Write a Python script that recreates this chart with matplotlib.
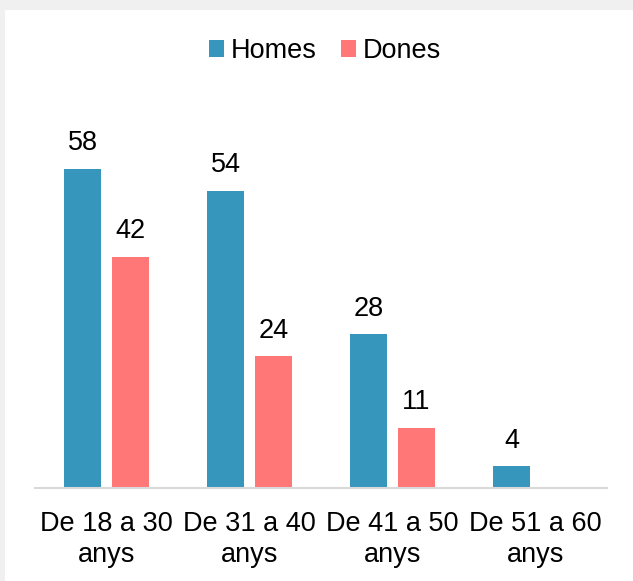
import numpy as np
import matplotlib.pyplot as plt
from matplotlib.patches import Rectangle

plt.rcParams['font.family'] = ['Liberation Sans', 'DejaVu Sans']

categories = ["De 18 a 30\nanys", "De 31 a 40\nanys", "De 41 a 50\nanys", "De 51 a 60\nanys"]
homes = [58, 54, 28, 4]
dones = [42, 24, 11, None]

blau = "#3796bc"
rosa = "#ff7777"
mida = 19.5

W, H = 633, 581
fig = plt.figure(figsize=(W / 100, H / 100), dpi=100, facecolor="#f0f0f0")
fig.patches.append(Rectangle((5 / W, 0), 1, 1 - 10 / H, transform=fig.transFigure,
                             facecolor="white", edgecolor="none", zorder=-5))

ax = fig.add_axes([35 / W, 93 / H, 572 / W, 352 / H])
ax.set_facecolor("none")

x = np.arange(len(categories))
ample = 0.26
desp = 0.168

hv = [v if v is not None else 0 for v in homes]
dv = [v if v is not None else 0 for v in dones]
b1 = ax.bar(x - desp, hv, ample, color=blau, label="Homes")
b2 = ax.bar(x + desp, dv, ample, color=rosa, label="Dones")

for i, v in enumerate(homes):
    if v is not None:
        ax.annotate(str(v), (x[i] - desp, v), xytext=(0, 9), textcoords="offset points",
                    ha="center", va="bottom", fontsize=mida)
for i, v in enumerate(dones):
    if v is not None:
        ax.annotate(str(v), (x[i] + desp, v), xytext=(0, 9), textcoords="offset points",
                    ha="center", va="bottom", fontsize=mida)

ax.set_xlim(-0.5, len(categories) - 0.5)
ax.set_ylim(0, 64)
ax.set_xticks(x)
ax.set_xticklabels(categories, fontsize=mida, linespacing=1.25)
ax.tick_params(axis="x", length=0, pad=16.5)
ax.set_yticks([])
for s in ["top", "left", "right"]:
    ax.spines[s].set_visible(False)
ax.spines["bottom"].set_color("#d9d9d9")
ax.spines["bottom"].set_linewidth(1.5)

fig.legend(handles=[b1, b2], loc="center", bbox_to_anchor=(325 / W, 1 - 51 / H), ncol=2,
           frameon=False, fontsize=mida, handlelength=0.55, handleheight=0.55,
           handletextpad=0.25, columnspacing=0.9)

fig.savefig("out.png", dpi=100, facecolor=fig.get_facecolor())
